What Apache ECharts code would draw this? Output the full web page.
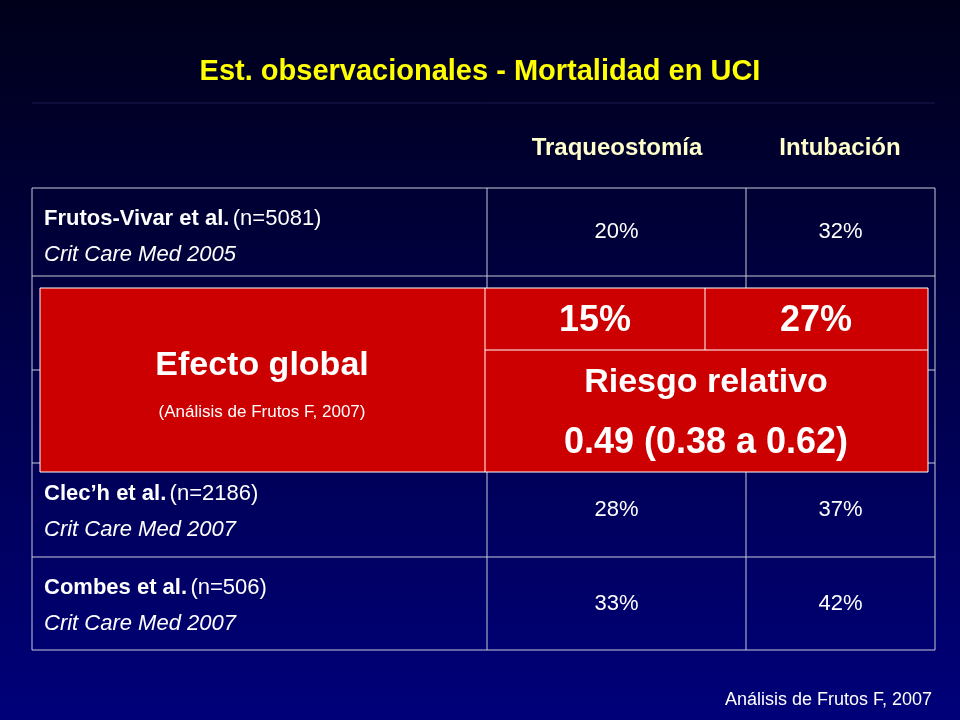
<!DOCTYPE html>
<html><head><meta charset="utf-8">
<script src="https://cdn.jsdelivr.net/npm/echarts@6/dist/echarts.min.js"></script>
<style>html,body{margin:0;padding:0;}#c{width:960px;height:720px;}</style>
</head><body><div id="c"></div>
<script>
const title = 'Est. observacionales - Mortalidad en UCI';
const headers = ['Traqueostomía', 'Intubación'];
const studies = ['Frutos-Vivar et al.', '', '', 'Clec\u2019h et al.', 'Combes et al.'];
const sizes = ['(n=5081)', '', '', '(n=2186)', '(n=506)'];
const journals = ['Crit Care Med 2005', '', '', 'Crit Care Med 2007', 'Crit Care Med 2007'];
const traqueo = ['20%', '', '', '28%', '33%'];
const intub = ['32%', '', '', '37%', '42%'];
const globalVals = ['15%', '27%'];
const globalLabel = 'Efecto global';
const globalSub = '(Análisis de Frutos F, 2007)';
const rrLabel = 'Riesgo relativo';
const rrValue = '0.49 (0.38 a 0.62)';
const footer = 'Análisis de Frutos F, 2007';

const F = '"Liberation Sans", Arial, sans-serif';
const rowTops = [188, 276, 370, 463, 557, 650];
const colX = [32, 487, 746, 935];
const g = [];
const line = (x1,y1,x2,y2,c,w)=>g.push({type:'line',shape:{x1,y1,x2,y2},style:{stroke:c,lineWidth:w}});
for (const y of rowTops) line(colX[0], y, colX[3], y, '#c8c8d8', 1);
for (const x of colX) line(x, rowTops[0], x, rowTops[5], '#c8c8d8', 1);
line(32, 103, 935, 103, '#1a1a50', 1);
studies.forEach((s,i)=>{
  if(!s) return;
  const top = rowTops[i], mid = (rowTops[i]+rowTops[i+1])/2;
  g.push({type:'text',x:44,y:top+31,style:{text:'{b|'+s+'} {n|'+sizes[i]+'}',verticalAlign:'middle',
    rich:{b:{fontFamily:'Liberation Sans',fontSize:22,fontWeight:'bold',fill:'#fff'},n:{fontFamily:'Liberation Sans',fontSize:22,fill:'#fff'}}}});
  g.push({type:'text',x:44,y:top+67,style:{text:journals[i],font:'italic 22px '+F,fill:'#fff',verticalAlign:'middle'}});
  g.push({type:'text',x:(colX[1]+colX[2])/2,y:mid,style:{text:traqueo[i],font:'22px '+F,fill:'#fff',align:'center',verticalAlign:'middle'}});
  g.push({type:'text',x:(colX[2]+colX[3])/2,y:mid,style:{text:intub[i],font:'22px '+F,fill:'#fff',align:'center',verticalAlign:'middle'}});
});
g.push({type:'text',x:617,y:148,style:{text:headers[0],font:'bold 24px '+F,fill:'#ffffcc',align:'center',verticalAlign:'middle'}});
g.push({type:'text',x:840,y:148,style:{text:headers[1],font:'bold 24px '+F,fill:'#ffffcc',align:'center',verticalAlign:'middle'}});
g.push({type:'rect',shape:{x:40,y:288,width:888,height:184},style:{fill:'#cc0000',stroke:'#fff',lineWidth:1}});
line(485,288,485,472,'#fff',1);
line(705,288,705,350,'#fff',1);
line(485,350,928,350,'#fff',1);
const T=(x,y,t,font)=>g.push({type:'text',x,y,style:{text:t,font,fill:'#fff',align:'center',verticalAlign:'middle'}});
T(595,321,globalVals[0],'bold 36px '+F);
T(816,321,globalVals[1],'bold 36px '+F);
T(262,366,globalLabel,'bold 34px '+F);
T(262,412,globalSub,'17px '+F);
T(706,383,rrLabel,'bold 34px '+F);
T(706,443,rrValue,'bold 36px '+F);
g.push({type:'text',x:932,y:700,style:{text:footer,font:'18px '+F,fill:'#fff',align:'right',verticalAlign:'middle'}});

const chart = echarts.init(document.getElementById('c'));
chart.setOption({
  backgroundColor:{type:'linear',x:0,y:0,x2:0,y2:1,colorStops:[{offset:0,color:'#00001a'},{offset:1,color:'#00007a'}]},
  title:{text:title,left:'center',top:52,textStyle:{color:'#ffff00',fontSize:29,fontWeight:'bold',fontFamily:'Liberation Sans'}},
  graphic:g
});
</script></body></html>
